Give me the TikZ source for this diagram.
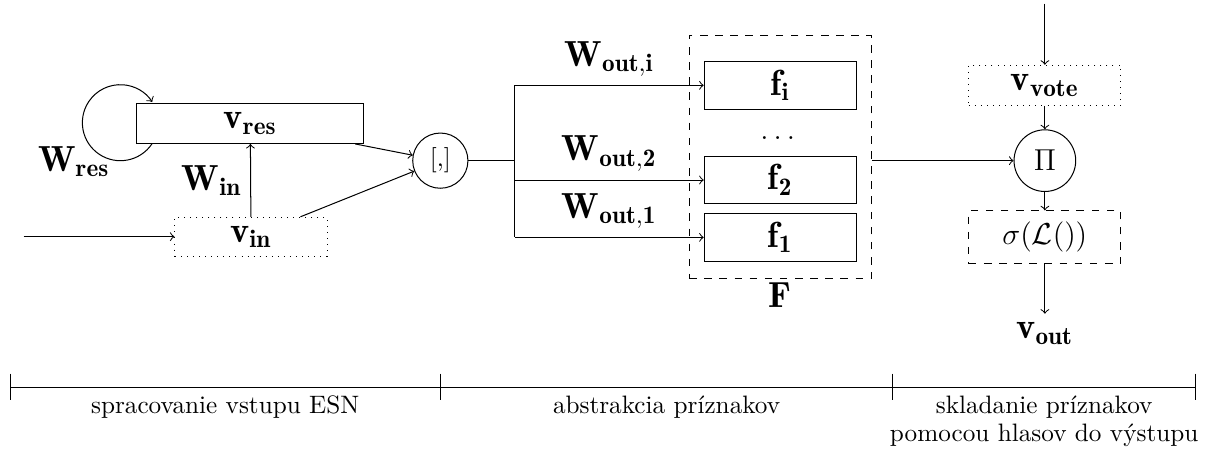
\documentclass[tikz,border=0pt]{standalone}
\usepackage{fontspec}
\usepackage{amsmath}
\usetikzlibrary{positioning,calc}

% tucny vektor s indexom
\newcommand{\vek}[2]{\ensuremath{\mathbf{#1}_{\mathbf{#2}}}}

\tikzset{
    blok/.style={draw, minimum width=2.12cm, minimum height=0.66cm, font=\Large},
    uzol/.style={draw, circle, inner sep=1pt},
    popis/.style={font=\normalsize, align=center}
}

\begin{document}
\begin{tikzpicture}[>=to, every node/.style={font=\Large}]
    \useasboundingbox (0,0) rectangle (17.04,6.28);

    % ESN: vstup a rezervoar
    \node[blok, minimum width=3.17cm, minimum height=0.56cm] (vres) at (3.49,4.56) {\vek{v}{res}};
    \node[blok, dotted, minimum height=0.54cm] (vin) at (3.50,2.98) {\vek{v}{in}};
    \node[uzol, minimum size=0.77cm, font=\normalsize] (concat) at (6.14,4.04) {[,]};
    \coordinate (start) at (0.33,2.98);
    \node (wres) at (1.03,4.03) {\vek{W}{res}};

    \draw[->] (start) -- (vin);
    \draw[->] (vin) -- node[midway, left] {\vek{W}{in}} (vres);
    \draw[->] ([xshift=0.22cm]vres.south west) arc[start angle=-34, end angle=-327, radius=0.53cm];
    \draw[->] (vres) -- (concat);
    \draw[->] (vin) -- (concat);

    % abstrakcia priznakov
    \coordinate (split) at (7.18,4.04);
    \node[blok] (fi) at (10.88,5.09) {\vek{f}{i}};
    \node[blok] (f2) at (10.88,3.77) {\vek{f}{2}};
    \node[blok] (f1) at (10.88,2.97) {\vek{f}{1}};
    \node[font=\large] (dots) at (10.88,4.36) {$\dots$};
    \node[draw, dashed, minimum width=2.54cm, minimum height=3.40cm] (F) at (10.88,4.09) {};
    \node[below=0pt of F, inner sep=1pt] (flab) {$\mathbf{F}$};

    \draw (concat) -- (split);
    \draw (split |- fi) -- (split |- f1);
    \draw[->] (split |- fi) -- node[above] {\vek{W}{out,i}} (fi);
    \draw[->] (split |- f2) -- node[above] {\vek{W}{out,2}} (f2);
    \draw[->] (split |- f1) -- node[above] {\vek{W}{out,1}} (f1);

    % hlasovanie
    \coordinate (votein) at (14.57,6.23);
    \node[blok, dotted, minimum height=0.56cm] (vvote) at (14.57,5.09) {\vek{v}{vote}};
    \node[uzol, minimum size=0.86cm, font=\large] (prod) at (14.57,4.04) {$\Pi$};
    \node[blok, dashed, minimum height=0.74cm, font=\large] (sig) at (14.57,2.97) {$\sigma(\mathcal{L}())$};
    \node (vout) at (14.57,1.63) {\vek{v}{out}};

    \draw[->] (votein) -- (vvote);
    \draw[->] (vvote) -- (prod);
    \draw[->] (F.east |- prod) -- (prod);
    \draw[->] (prod) -- (sig);
    \draw[->] (sig) -- (vout);

    % casti
    \coordinate (t0) at (0.14,0.88);
    \coordinate (t1) at (6.14,0.88);
    \coordinate (t2) at (12.45,0.88);
    \coordinate (t3) at (16.67,0.88);
    \draw (t0) -- (t3);
    \foreach \t in {t0,t1,t2,t3}
        \draw ([yshift=0.19cm]\t) -- ([yshift=-0.18cm]\t);
    \node[popis, below] (cast1) at ($(t0)!0.5!(t1)$) {spracovanie vstupu ESN};
    \node[popis, below] (cast2) at ($(t1)!0.5!(t2)$) {abstrakcia príznakov};
    \node[popis, below] (cast3) at ($(t2)!0.5!(t3)$) {skladanie príznakov\\[-1pt] pomocou hlasov do výstupu};
\end{tikzpicture}
\end{document}
